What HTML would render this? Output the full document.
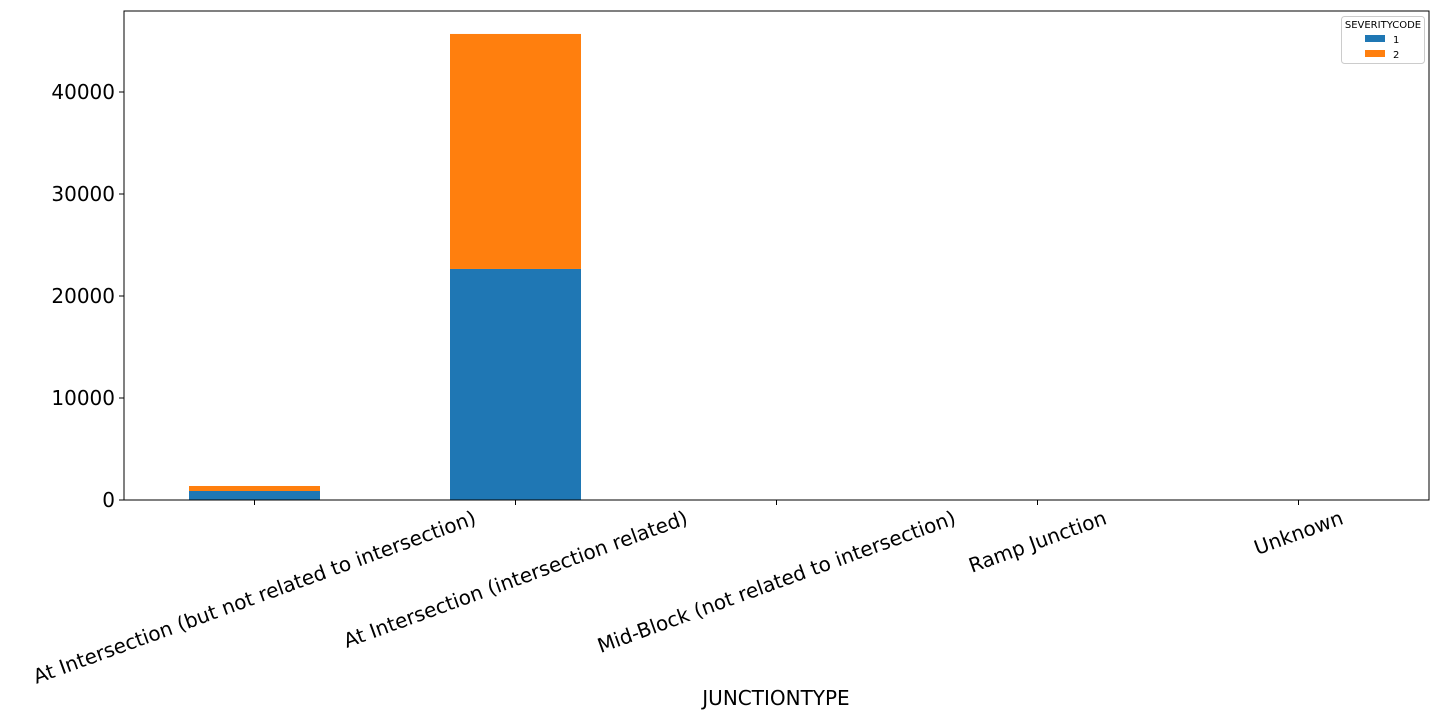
<!DOCTYPE html>
<html><head><meta charset="utf-8"><style>
body{margin:0;background:#fff;}
svg{display:block;font-family:"DejaVu Sans","Liberation Sans",sans-serif;}
</style></head><body>
<svg id="chart" width="1440" height="720"></svg>
<script>
const categories=["At Intersection (but not related to intersection)","At Intersection (intersection related)","Mid-Block (not related to intersection)","Ramp Junction","Unknown"];
const sev1=[882,22650,0,0,0];
const sev2=[491,23040,0,0,0];
const yTicks=[0,10000,20000,30000,40000];
const ns="http://www.w3.org/2000/svg";
const svg=document.getElementById('chart');
const L=124,R=1429,T=11,B=500;
const y=v=>B-v*(408/40000);
const step=(R-L)/categories.length;
const xc=i=>L+step*(i+0.5);
const bw=131;
function mk(tag,at,txt){const e=document.createElementNS(ns,tag);for(const k in at)e.setAttribute(k,at[k]);if(txt!=null)e.textContent=txt;svg.appendChild(e);return e;}
const ang=20*Math.PI/180;
categories.forEach((c,i)=>{
  let r=mk('rect',{x:xc(i)-bw/2,y:y(sev1[i]),width:bw,height:B-y(sev1[i]),fill:'#1f77b4'});
  
  
  let r2=mk('rect',{x:xc(i)-bw/2,y:y(sev1[i]+sev2[i]),width:bw,height:y(sev1[i])-y(sev1[i]+sev2[i]),fill:'#ff7f0e'});
  
  
  mk('line',{x1:xc(i),x2:xc(i),y1:B,y2:B+5,stroke:'#000','stroke-width':1});
  let t=mk('text',{x:0,y:0,'font-size':20,'text-anchor':'middle',fill:'#000'},c);
  
  
  const w=t.getComputedTextLength(), h=23;
  const boxH=w*Math.sin(ang)+h*Math.cos(ang);
  const cy=B+6+boxH/2, cx=xc(i);
  t.setAttribute('x',cx);
  t.setAttribute('y',cy+7);
  t.setAttribute('transform',`rotate(-20 ${cx} ${cy})`);
});
yTicks.forEach(v=>{
  mk('line',{x1:L-5,x2:L,y1:y(v),y2:y(v),stroke:'#000','stroke-width':1});
  let t=mk('text',{x:L-9,y:y(v)+7,'font-size':20,'text-anchor':'end',fill:'#000'},String(v));
  
  
});
let ax=mk('rect',{x:L,y:T,width:R-L,height:B-T,fill:'none',stroke:'#000','stroke-width':1});


let xt=mk('text',{x:776,y:705,'font-size':20,'text-anchor':'middle',fill:'#000'},'JUNCTIONTYPE');


let lg=mk('rect',{x:1341.5,y:16.5,width:83,height:47,rx:3,fill:'#fff',stroke:'#ccc'});


mk('text',{x:1383,y:28,'font-size':10,'text-anchor':'middle',fill:'#000'},'SEVERITYCODE');
mk('rect',{x:1365,y:35,width:20,height:7,fill:'#1f77b4'});
mk('text',{x:1393,y:43,'font-size':10,fill:'#000'},'1');
mk('rect',{x:1365,y:50,width:20,height:7,fill:'#ff7f0e'});
mk('text',{x:1393,y:58,'font-size':10,fill:'#000'},'2');
</script>
</body></html>
